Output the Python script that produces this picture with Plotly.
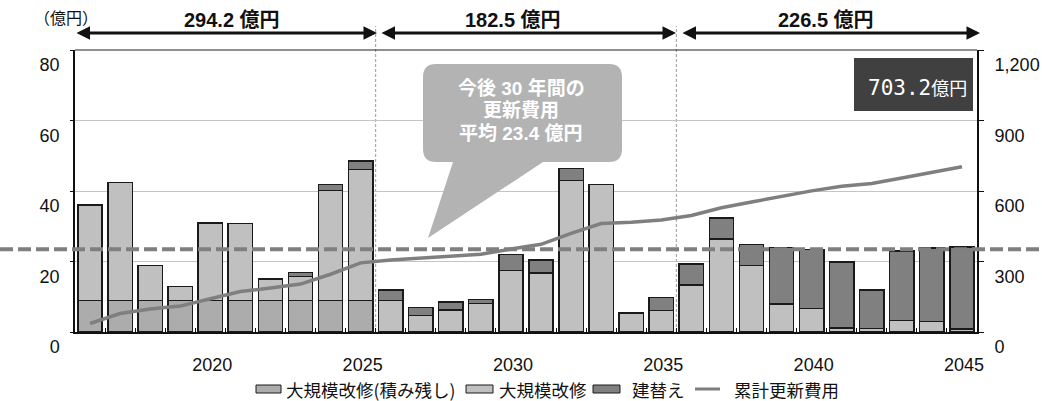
import numpy as np
import plotly.graph_objects as go

# ---- data (億円) ----
years = list(range(2016, 2046))

backlog = [8.9, 8.9, 8.9, 8.9, 8.9, 8.9, 8.9, 8.9, 8.9, 8.9,
           None, None, None, None, None, None, None, None, None, None,
           None, None, None, None, None, None, None, None, None, None]

major = [27.2, 33.5, 10.0, 4.0, 22.0, 21.9, 6.1, 6.9, 31.3, 37.2,
         9.0, 4.7, 6.2, 8.1, 17.4, 16.7, 43.0, 41.9, 5.4, 6.1,
         13.4, 26.4, 18.8, 7.9, 6.6, 1.2, 1.0, 3.3, 3.0, 0.8]

rebuild = [None, None, None, None, None, None, None, 1.1, 1.6, 2.4,
           2.9, 2.3, 2.3, 1.1, 4.6, 3.7, 3.4, None, None, 3.7,
           5.9, 6.0, 6.0, 16.1, 16.8, 18.6, 10.9, 19.7, 20.8, 23.3]

period_bounds = [2025.5, 2035.5]
tick_years = [2020, 2025, 2030, 2035, 2040, 2045]

# ---- derived values ----
def z(v):
    return np.array([0.0 if x is None else x for x in v])

annual = z(backlog) + z(major) + z(rebuild)
cumulative = np.cumsum(annual)
yr = np.array(years)
period_totals = [annual[yr <= 2025].sum(),
                 annual[(yr > 2025) & (yr <= 2035)].sum(),
                 annual[yr > 2035].sum()]
grand_total = annual.sum()
average = grand_total / len(years)

# ---- plot-area geometry (pixels) ----
W, H = 1042, 401
L, R, T, B = 75, 977, 50, 332
PW, PH = R - L, B - T


def px(x):
    return (x - L) / PW


def py(y):
    return (B - y) / PH


NUM = "Liberation Sans, Arial, Noto Sans CJK JP"
JP = "Noto Sans CJK JP, Liberation Sans"
OUT = "#1a1a1a"
C_BACKLOG, C_MAJOR, C_REBUILD, C_LINE = "#acacac", "#c0c0c0", "#808080", "#7f7f7f"

fig = go.Figure()
fig.add_bar(x=years, y=backlog, name="大規模改修(積み残し)",
            marker=dict(color=C_BACKLOG, line=dict(color=OUT, width=1.5)))
fig.add_bar(x=years, y=major, name="大規模改修",
            marker=dict(color=C_MAJOR, line=dict(color=OUT, width=1.5)))
fig.add_bar(x=years, y=rebuild, name="建替え",
            marker=dict(color=C_REBUILD, line=dict(color=OUT, width=1.5)))
fig.add_scatter(x=years, y=cumulative, name="累計更新費用", yaxis="y2",
                mode="lines", line=dict(color=C_LINE, width=3.5))

fig.update_traces(width=0.81, showlegend=False, selector=dict(type="bar"))
fig.update_traces(showlegend=False, selector=dict(type="scatter"))

shapes = []
annotations = []


def label(x, y, text, size, color="#111", family=NUM, xanchor="center"):
    annotations.append(dict(xref="paper", yref="paper", x=px(x), y=py(y), text=text,
                            showarrow=False, xanchor=xanchor, yanchor="middle",
                            font=dict(family=family, size=size, color=color)))


# top border of the plot frame
shapes.append(dict(type="line", xref="paper", yref="paper", x0=0, x1=1, y0=1, y1=1,
                   line=dict(color="#222", width=1)))
# period separators
for b in period_bounds:
    shapes.append(dict(type="line", xref="x", yref="paper", x0=b, x1=b,
                       y0=0, y1=py(26), layer="below",
                       line=dict(color="#9a9a9a", width=1, dash="3px,2px")))
# average line across the full width
shapes.append(dict(type="line", xref="paper", yref="y", x0=px(0), x1=px(W),
                   y0=average, y1=average, layer="above",
                   line=dict(color=C_LINE, width=4, dash="13px,5px")))

# speech balloon
bx0, bx1, by0, by1, r = 423, 622, 64, 162, 13
tip = (428, 238)
pts = [
    f"M {px(bx0 + r)} {py(by0)}",
    f"L {px(bx1 - r)} {py(by0)}",
    f"Q {px(bx1)} {py(by0)} {px(bx1)} {py(by0 + r)}",
    f"L {px(bx1)} {py(by1 - r)}",
    f"Q {px(bx1)} {py(by1)} {px(bx1 - r)} {py(by1)}",
    f"L {px(543)} {py(by1)}",
    f"L {px(tip[0])} {py(tip[1])}",
    f"L {px(453)} {py(by1)}",
    f"L {px(bx0 + r)} {py(by1)}",
    f"Q {px(bx0)} {py(by1)} {px(bx0)} {py(by1 - r)}",
    f"L {px(bx0)} {py(by0 + r)}",
    f"Q {px(bx0)} {py(by0)} {px(bx0 + r)} {py(by0)}",
    "Z",
]
shapes.append(dict(type="path", xref="paper", yref="paper", path=" ".join(pts),
                   fillcolor="#b3b3b3", line=dict(width=0), layer="above"))

# total box
shapes.append(dict(type="rect", xref="paper", yref="paper",
                   x0=px(854), x1=px(973), y0=py(111), y1=py(58),
                   fillcolor="#404040", line=dict(width=0), layer="above"))

# unit label
label(66, 17, "（億円）", 16, family=JP)

# period arrows and totals
spans = [(75, 377, 232), (380, 676, 513), (681, 980, 826)]
for (a, b, c), tot in zip(spans, period_totals):
    annotations.append(dict(xref="paper", yref="paper", x=px(b), y=py(33),
                            ax=-(b - a), ay=0, axref="pixel", ayref="pixel",
                            text="", showarrow=True, arrowside="end+start",
                            arrowhead=2, startarrowhead=2, arrowsize=0.9,
                            startarrowsize=0.9, arrowwidth=3, arrowcolor="#111",
                            standoff=0, startstandoff=0))
    label(c, 20, f"<b>{tot:.1f} 億円</b>", 20)

# balloon text
for t, yy in [("今後 30 年間の", 88), ("更新費用", 110.5), (f"平均 {average:.1f} 億円", 133)]:
    label(521, yy, f"<b>{t}</b>", 19, color="white")

# grand total
label(969, 88, f"{grand_total:.1f}<span style='font-size:18px'>億円</span>", 21,
      color="white", family="DejaVu Sans Mono, Noto Sans CJK JP", xanchor="right")

# legend row
legend_items = [("bar", C_BACKLOG, 256, 281, 284, "大規模改修(積み残し)"),
                ("bar", C_MAJOR, 466, 493, 497, "大規模改修"),
                ("bar", C_REBUILD, 593, 620, 630, "建替え"),
                ("line", C_LINE, 695, 720, 732, "累計更新費用")]
LY = 389
for kind, col, s0, s1, tx, name in legend_items:
    if kind == "bar":
        shapes.append(dict(type="rect", xref="paper", yref="paper",
                           x0=px(s0), x1=px(s1), y0=py(LY + 4), y1=py(LY - 4),
                           fillcolor=col, line=dict(color=OUT, width=1)))
    else:
        shapes.append(dict(type="line", xref="paper", yref="paper",
                           x0=px(s0), x1=px(s1), y0=py(LY), y1=py(LY),
                           line=dict(color=col, width=3)))
    label(tx, LY, name, 17.5, family=JP, xanchor="left")

fig.update_layout(
    width=W, height=H,
    margin=dict(l=L, r=W - R, t=T, b=H - B, autoexpand=False),
    paper_bgcolor="white", plot_bgcolor="white",
    barmode="stack", bargap=0.19, showlegend=False,
    font=dict(family=NUM, size=18, color="#111"),
    xaxis=dict(range=[2015.5, 2045.5], tickvals=tick_years, ticks="",
               showline=True, linecolor="#111", linewidth=2, showgrid=False,
               zeroline=False, ticklabelstandoff=15, ticklabelshift=2,
               tickfont=dict(family=NUM, size=18),
               minor=dict(tickvals=[y + 0.5 for y in years[:-1]], ticks="inside",
                          ticklen=4, tickcolor="#111", tickwidth=1, showgrid=False)),
    yaxis=dict(range=[0, 80], tickvals=[0, 20, 40, 60, 80], showline=True,
               linecolor="#111", linewidth=1.5, showgrid=True, gridcolor="#c4c4c4",
               gridwidth=1, zeroline=False, ticks="outside", ticklen=3,
               tickcolor="#111", ticklabelshift=15, ticklabelstandoff=7,
               tickfont=dict(family=NUM, size=18)),
    yaxis2=dict(range=[0, 1200], tickvals=[0, 300, 600, 900, 1200], tickformat=",",
                overlaying="y", side="right", showline=True, linecolor="#111",
                linewidth=2, showgrid=False, zeroline=False, ticks="outside",
                ticklen=5, tickcolor="#111", ticklabelshift=15, ticklabelstandoff=7,
                tickfont=dict(family=NUM, size=18)),
    shapes=shapes,
    annotations=annotations,
)

fig.write_html("out.html")
